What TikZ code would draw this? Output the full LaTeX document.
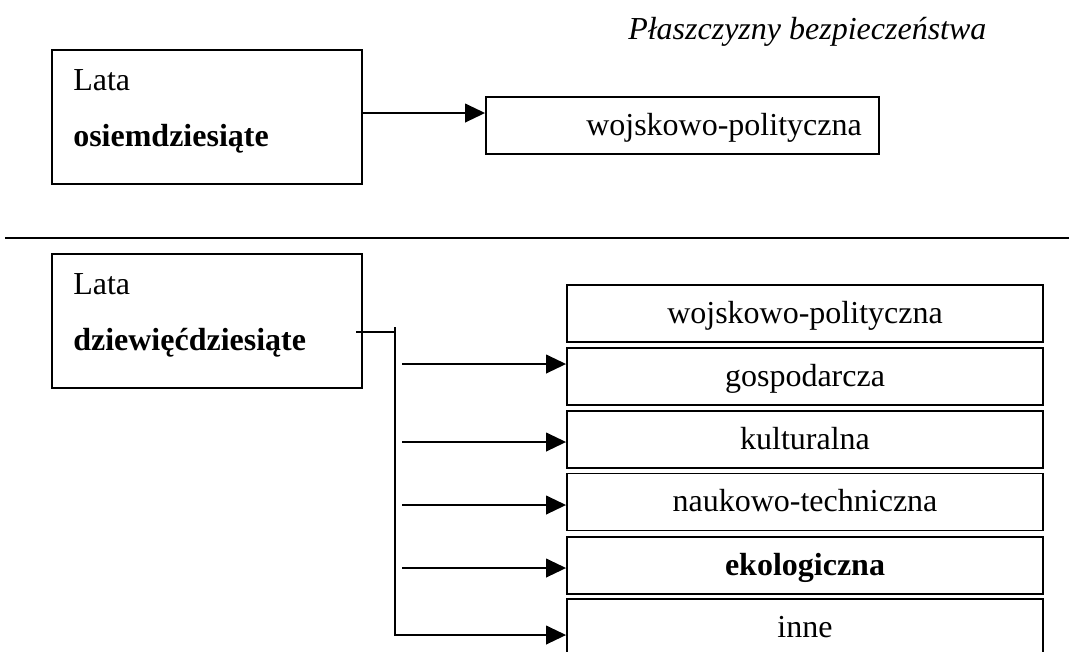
\documentclass[tikz,border=0pt]{standalone}
\usepackage{fontspec}
\setmainfont{Liberation Serif}
\usetikzlibrary{arrows.meta}
\begin{document}
\begin{tikzpicture}[x=0.75pt,y=-0.75pt,
  conn/.style={line width=1.4pt},
  arr/.style={conn,-{Triangle[length=15pt,width=14pt]}},
  frame/.style={draw,line width=1.4pt,inner sep=0pt},
  bigbox/.style={frame,minimum width=232.5pt,minimum height=100.5pt},
  topbox/.style={frame,minimum width=294.75pt,minimum height=42.75pt},
  levbox/.style={frame,minimum width=357pt,minimum height=42.75pt},
  txt/.style={inner sep=0pt,font=\fontsize{24pt}{28pt}\selectfont},
  lbl/.style={txt,anchor=base west},
  ctr/.style={txt,anchor=base}]
\useasboundingbox (0,0) rectangle (1069,651);
% title
\node[lbl,font=\fontsize{24pt}{28pt}\selectfont\itshape] (title) at (628,39) {Płaszczyzny bezpieczeństwa};
% top part
\node[bigbox] (a80) at (207,117) {};
\node[lbl] (a80l1) at (73,90) {Lata};
\node[lbl,font=\fontsize{24pt}{28pt}\selectfont\bfseries] (a80l2) at (73,146) {osiemdziesiąte};
\node[topbox] (w80) at (682.5,125.5) {};
\node[lbl] (w80t) at (586,135) {wojskowo-polityczna};
\draw[arr] (a80.east |- 0,113) -- (w80.west |- 0,113);
% separator
\draw[conn] (5,238) -- (1069,238);
% bottom part
\node[bigbox] (a90) at (207,321) {};
\node[lbl] (a90l1) at (73,294) {Lata};
\node[lbl,font=\fontsize{24pt}{28pt}\selectfont\bfseries] (a90l2) at (73,350) {dziewięćdziesiąte};
\node[levbox] (b1) at (805,313.5) {};
\node[levbox] (b2) at (805,376.5) {};
\node[levbox] (b3) at (805,439.5) {};
\node[levbox] (b4) at (805,502) {};
\node[levbox] (b5) at (805,565.5) {};
\node[levbox] (b6) at (805,627.5) {};
\node[ctr] (b1t) at (805,323) {wojskowo-polityczna};
\node[ctr] (b2t) at (805,386) {gospodarcza};
\node[ctr] (b3t) at (805,449) {kulturalna};
\node[ctr] (b4t) at (805,511) {naukowo-techniczna};
\node[ctr,font=\fontsize{24pt}{28pt}\selectfont\bfseries] (b5t) at (805,575) {ekologiczna};
\node[ctr] (b6t) at (805,637) {inne};
% connectors
\coordinate (tick) at (356,332);
\coordinate (trunk) at (395,327);
\draw[conn] (tick) -- (trunk |- tick);
\draw[arr] (trunk) -- (395,635) -- (b6.west |- 0,635);
\coordinate (s2) at (402,364);
\coordinate (s3) at (402,442);
\coordinate (s4) at (402,505);
\coordinate (s5) at (402,568);
\draw[arr] (s2) -- (b2.west |- s2);
\draw[arr] (s3) -- (b3.west |- s3);
\draw[arr] (s4) -- (b4.west |- s4);
\draw[arr] (s5) -- (b5.west |- s5);
\end{tikzpicture}
\end{document}
